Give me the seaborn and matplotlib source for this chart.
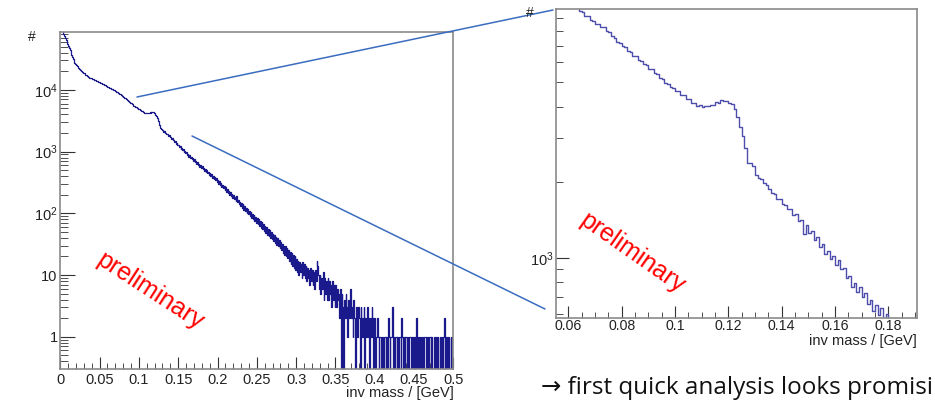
import numpy as np
import pandas as pd
import matplotlib
matplotlib.use("Agg")
import matplotlib.pyplot as plt
from matplotlib.ticker import FuncFormatter, LogLocator, MultipleLocator, NullFormatter
from matplotlib.lines import Line2D
import seaborn as sns

# ---------------- data ----------------
# full-range histogram: 0 .. 0.5 GeV, bin width 0.001 GeV (one row = 0.01 GeV)
full_lo, full_hi, full_nbins = 0.0, 0.5, 500
full_counts = [
    90000, 95000, 92000, 86000, 79400, 74100, 69200, 64600, 60300, 56200,
    52100, 47800, 43800, 40200, 36800, 34200, 31800, 29500, 27400, 26200,
    25200, 24300, 23300, 22400, 21600, 20800, 20300, 19900, 19400, 19000,
    18550, 18050, 17750, 17250, 16950, 16450, 16250, 15850, 15750, 15450,
    15250, 14950, 14850, 14550, 14450, 14150, 14050, 13750, 13650, 13350,
    13250, 12950, 12850, 12550, 12450, 12200, 12130, 11820, 11710, 11420,
    11300, 11010, 10910, 10620, 10540, 10250, 10170, 9900, 9820, 9550,
    9480, 9230, 9140, 8900, 8830, 8590, 8520, 8290, 8190, 7900,
    7780, 7510, 7400, 7140, 7040, 6780, 6680, 6430, 6350, 6110,
    6040, 5810, 5740, 5520, 5460, 5260, 5230, 5050, 5030, 4860,
    4840, 4680, 4650, 4500, 4480, 4330, 4310, 4160, 4200, 4150,
    4220, 4180, 4260, 4220, 4310, 4270, 4350, 4310, 4360, 4240,
    4140, 3950, 3780, 3440, 3180, 2850, 2650, 2420, 2360, 2230,
    2230, 2100, 2120, 1990, 2020, 1930, 1960, 1820, 1850, 1710,
    1750, 1620, 1650, 1520, 1560, 1420, 1470, 1350, 1390, 1270,
    1300, 1200, 1240, 1120, 1160, 1060, 1100, 990, 1040, 950,
    970, 880, 925, 830, 875, 785, 820, 745, 785, 710,
    745, 672, 705, 640, 676, 600, 640, 572, 610, 548,
    580, 518, 552, 490, 525, 462, 500, 445, 475, 420,
    450, 400, 428, 378, 405, 362, 385, 342, 368, 325,
    352, 300, 330, 285, 312, 268, 292, 255, 278, 240,
    262, 225, 248, 210, 232, 200, 218, 188, 206, 178,
    195, 168, 186, 158, 190, 150, 162, 140, 155, 132,
    148, 122, 140, 114, 132, 108, 124, 102, 116, 96,
    110, 90, 104, 84, 98, 80, 93, 76, 88, 70,
    84, 66, 80, 62, 75, 58, 71, 55, 67, 51,
    63, 48, 60, 45, 56, 43, 53, 40, 50, 38,
    47, 35, 45, 33, 42, 31, 40, 29, 37, 27,
    34, 25, 32, 23, 30, 21, 29, 20, 27, 19,
    25, 17, 24, 15, 23, 14, 21, 13, 20, 12,
    18, 11, 17, 10, 16, 11, 15, 9, 16, 10,
    15, 9, 14, 8, 13, 9, 12, 7, 13, 8,
    12, 7, 11, 6, 12, 8, 17, 14, 10, 6,
    10, 5, 9, 6, 11, 4, 9, 5, 8, 4,
    9, 4, 8, 5, 7, 3, 8, 4, 7, 3,
    7, 3, 6, 4, 5, 2, 6, 0, 5, 3,
    0, 4, 2, 5, 3, 1, 4, 2, 3, 6,
    2, 3, 1, 4, 2, 0, 3, 2, 1, 3,
    2, 0, 3, 2, 1, 2, 3, 0, 2, 1,
    3, 1, 2, 0, 2, 1, 3, 2, 0, 2,
    1, 0, 1, 2, 1, 0, 1, 1, 0, 1,
    1, 0, 1, 1, 0, 1, 0, 2, 1, 0,
    1, 1, 3, 0, 1, 0, 1, 1, 0, 1,
    0, 1, 1, 0, 2, 1, 0, 1, 0, 1,
    1, 0, 1, 0, 1, 1, 0, 0, 1, 0,
    1, 0, 1, 2, 0, 1, 0, 1, 0, 1,
    0, 1, 0, 1, 1, 0, 0, 1, 0, 1,
    1, 0, 1, 0, 0, 1, 1, 0, 1, 0,
    1, 0, 0, 1, 0, 1, 0, 1, 2, 0,
    1, 0, 1, 0, 1, 0, 0, 1, 0, 1,
]

# zoomed histogram: 0.055 .. 0.19 GeV, bin width 0.001 GeV
zoom_lo, zoom_hi, zoom_nbins = 0.055, 0.19, 135
zoom_counts = [
    11750, 11420, 11330, 10920, 10850, 10490, 10400, 10050, 9950, 9640,
    9530, 9220, 9150, 8870, 8790, 8560, 8540, 8300, 8280, 7990,
    7900, 7610, 7500, 7250, 7200, 6970, 6920, 6680, 6630, 6390,
    6350, 6120, 6080, 5890, 5870, 5660, 5650, 5460, 5400, 5210,
    5160, 4950, 4920, 4770, 4750, 4610, 4600, 4460, 4440, 4290,
    4280, 4140, 4150, 4040, 4050, 3980, 4040, 4010, 4080, 4060,
    4160, 4150, 4250, 4200, 4210, 4150, 4090, 3920, 3650, 3330,
    3060, 2730, 2390, 2380, 2320, 2140, 2090, 2070, 1990, 1960,
    1890, 1810, 1790, 1720, 1710, 1640, 1630, 1560, 1560, 1480,
    1490, 1400, 1420, 1250, 1350, 1260, 1280, 1180, 1210, 1110,
    1140, 1040, 1070, 990, 1020, 940, 980, 900, 915, 830,
    845, 765, 795, 735, 765, 700, 725, 655, 680, 615,
    650, 595, 630, 575, 600, 550, 570, 522, 545, 498,
    515, 475, 490, 450, 465,
]

x_label = "inv mass / [GeV]"
y_label = "#"
stamp = "preliminary"
footer = "\u2192 first quick analysis looks promisi"

# ---------------- style ----------------
sns.set_style("white")
plt.rcParams["font.family"] = ["Liberation Sans", "DejaVu Sans"]
plt.rcParams["mathtext.fontset"] = "custom"
plt.rcParams["mathtext.rm"] = "Liberation Sans"
plt.rcParams["mathtext.it"] = "Liberation Sans:italic"
plt.rcParams["mathtext.bf"] = "Liberation Sans:bold"

W, H = 935, 400
fig = plt.figure(figsize=(W / 100, H / 100), dpi=100)


def px_axes(x0, y0, x1, y1):
    return fig.add_axes([x0 / W, 1 - y1 / H, (x1 - x0) / W, (y1 - y0) / H])


ax_full = px_axes(60.3, 32.3, 453.3, 368.7)
ax_zoom = px_axes(556.0, 9.0, 916.7, 318.0)

TICK_COL = "#333333"
FRAME_COL = "#8a8a8a"


def draw_hist(ax, lo, hi, nb, counts, color, lw):
    width = (hi - lo) / nb
    df = pd.DataFrame({"mass": lo + width * (np.arange(nb) + 0.5),
                       "n": np.asarray(counts, dtype=float)})
    sns.histplot(data=df, x="mass", weights="n", bins=nb, binrange=(lo, hi),
                 element="step", fill=False, color=color, linewidth=lw, ax=ax)
    ax.set_yscale("log", nonpositive="clip")


def log_label(v, pos):
    if v <= 0:
        return ""
    e = int(round(np.log10(v)))
    if abs(v - 10 ** e) > 1e-6 * v:
        return ""
    if e == 0:
        return "1"
    if e == 1:
        return "10"
    return r"$\mathregular{10^{%d}}$" % e


def style_axes(ax):
    ax.set_xlabel("")
    ax.set_ylabel("")
    for s in ax.spines.values():
        s.set_color(FRAME_COL)
        s.set_linewidth(1.2)
        s.set_visible(True)
    ax.tick_params(which="both", direction="in", colors=TICK_COL,
                   labelcolor="#222222", labelsize=10.5, top=False, right=False,
                   bottom=True, left=True)
    ax.grid(False)


# ---- full range panel ----
draw_hist(ax_full, full_lo, full_hi, full_nbins, full_counts, "#1a1a8c", 0.9)
ax_full.set_xlim(0.0, 0.5)
ax_full.set_ylim(0.303, 85800)
style_axes(ax_full)
ax_full.xaxis.set_major_locator(MultipleLocator(0.05))
ax_full.xaxis.set_minor_locator(MultipleLocator(0.01))
ax_full.xaxis.set_major_formatter(FuncFormatter(lambda v, p: f"{v:g}"))
ax_full.yaxis.set_major_locator(LogLocator(base=10, numticks=12))
ax_full.yaxis.set_minor_locator(LogLocator(base=10, subs=np.arange(2, 10), numticks=12))
ax_full.yaxis.set_major_formatter(FuncFormatter(log_label))
ax_full.yaxis.set_minor_formatter(NullFormatter())
ax_full.tick_params(axis="y", which="major", length=10.5, pad=2)
ax_full.tick_params(axis="y", which="minor", length=5.5)
ax_full.tick_params(axis="x", which="major", length=8.5, pad=3)
ax_full.tick_params(axis="x", which="minor", length=4.2)

# ---- zoom panel ----
draw_hist(ax_zoom, zoom_lo, zoom_hi, zoom_nbins, zoom_counts, "#4d4dab", 1.0)
ax_zoom.set_xlim(0.0554, 0.1906)
ax_zoom.set_ylim(577, 9790)
style_axes(ax_zoom)
ax_zoom.xaxis.set_major_locator(MultipleLocator(0.02))
ax_zoom.xaxis.set_minor_locator(MultipleLocator(0.005))
ax_zoom.xaxis.set_major_formatter(FuncFormatter(lambda v, p: f"{v:g}"))
ax_zoom.yaxis.set_major_locator(LogLocator(base=10, numticks=12))
ax_zoom.yaxis.set_minor_locator(LogLocator(base=10, subs=np.arange(2, 10), numticks=12))
ax_zoom.yaxis.set_major_formatter(FuncFormatter(log_label))
ax_zoom.yaxis.set_minor_formatter(NullFormatter())
ax_zoom.tick_params(axis="y", which="major", length=9.5, pad=2)
ax_zoom.tick_params(axis="y", which="minor", length=5)
ax_zoom.tick_params(axis="x", which="major", length=8.4, pad=1, labelsize=10.2)
ax_zoom.tick_params(axis="x", which="minor", length=4.3)


# ---- axis titles (ROOT style: at the ends) ----
def fig_text(x, y, s, **kw):
    fig.text(x / W, 1 - y / H, s, **kw)


fig_text(453.3, 392.5, x_label, ha="right", va="center", fontsize=10.5, color="#222222")
fig_text(916.7, 341.5, x_label, ha="right", va="center", fontsize=10.5, color="#222222")
fig_text(32.0, 37.0, y_label, ha="center", va="center", fontsize=10, color="#222222")
fig_text(530.0, 13.0, y_label, ha="center", va="center", fontsize=10, color="#222222")

# ---- red stamps ----
fig_text(150.0, 291.0, stamp, ha="center", va="center", rotation=-33,
         rotation_mode="anchor", fontsize=18, color="#ff0000")
fig_text(632.0, 253.0, stamp, ha="center", va="center", rotation=-35,
         rotation_mode="anchor", fontsize=18, color="#ff0000")

# ---- connector lines ----
for (xa, ya), (xb, yb) in [((137.0, 97.0), (553.0, 10.0)),
                           ((192.0, 136.0), (545.0, 309.0))]:
    fig.add_artist(Line2D([xa / W, xb / W], [1 - ya / H, 1 - yb / H],
                          transform=fig.transFigure, color="#3a6cc0", linewidth=1.1))

# ---- footer text ----
fig_text(541.0, 388.0, footer, ha="left", va="center", fontsize=17.5,
         color="#111111", family=["Open Sans", "DejaVu Sans"])

fig.savefig("out.png", dpi=100)
